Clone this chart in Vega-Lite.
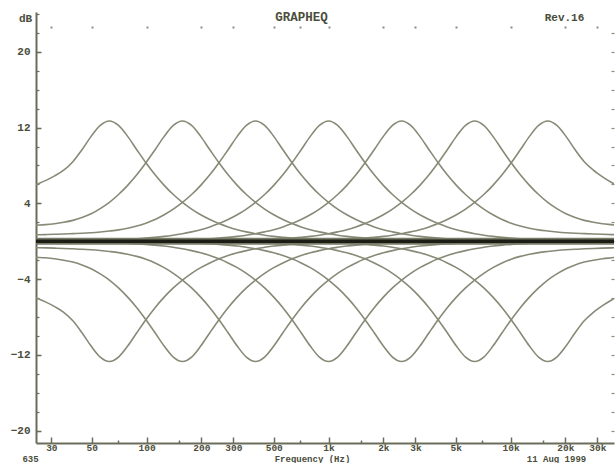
{
  "$schema": "https://vega.github.io/schema/vega-lite/v6.json",
  "width": 578,
  "height": 431,
  "autosize": {"type": "none"},
  "padding": {"left": 36, "top": 12, "right": 1, "bottom": 20},
  "background": "#ffffff",
  "config": {
    "view": {"stroke": null},
    "axis": {"grid": false, "labelFont": "Liberation Mono", "labelFontWeight": "bold", "labelFontSize": 11, "labelColor": "#4a4d3b", "titleFont": "Liberation Mono", "titleFontWeight": "bold", "titleFontSize": 11, "titleColor": "#4a4d3b", "tickColor": "#6a6d5a", "domainColor": "#6a6d5a"}
  },
  "data": {"values": [
    {"f":22.1,"b1":5.6,"b2":1.65,"b3":0.66,"b4":0.02,"b5":0.01,"b6":0,"b7":0,"c1":-5.6,"c2":-1.65,"c3":-0.66,"c4":-0.02,"c5":-0.01,"c6":0,"c7":0},
    {"f":24.8,"b1":6.0,"b2":1.7,"b3":0.68,"b4":0.02,"b5":0.01,"b6":0,"b7":0,"c1":-6.0,"c2":-1.7,"c3":-0.68,"c4":-0.02,"c5":-0.01,"c6":0,"c7":0},
    {"f":27.84,"b1":6.4,"b2":1.75,"b3":0.7,"b4":0.03,"b5":0.01,"b6":0,"b7":0,"c1":-6.4,"c2":-1.75,"c3":-0.7,"c4":-0.03,"c5":-0.01,"c6":0,"c7":0},
    {"f":31.25,"b1":6.9,"b2":1.85,"b3":0.73,"b4":0.03,"b5":0.01,"b6":0,"b7":0,"c1":-6.9,"c2":-1.85,"c3":-0.73,"c4":-0.03,"c5":-0.01,"c6":0,"c7":0},
    {"f":35.08,"b1":7.5,"b2":2.0,"b3":0.76,"b4":0.04,"b5":0.01,"b6":0,"b7":0,"c1":-7.5,"c2":-2.0,"c3":-0.76,"c4":-0.04,"c5":-0.01,"c6":0,"c7":0},
    {"f":39.37,"b1":8.4,"b2":2.2,"b3":0.8,"b4":0.05,"b5":0.01,"b6":0,"b7":0,"c1":-8.4,"c2":-2.2,"c3":-0.8,"c4":-0.05,"c5":-0.01,"c6":0,"c7":0},
    {"f":44.19,"b1":9.66,"b2":2.5,"b3":0.84,"b4":0.06,"b5":0.01,"b6":0,"b7":0,"c1":-9.66,"c2":-2.5,"c3":-0.84,"c4":-0.06,"c5":-0.01,"c6":0,"c7":0},
    {"f":49.61,"b1":11.07,"b2":2.9,"b3":0.9,"b4":0.08,"b5":0.02,"b6":0,"b7":0,"c1":-11.07,"c2":-2.9,"c3":-0.9,"c4":-0.08,"c5":-0.02,"c6":0,"c7":0},
    {"f":55.68,"b1":12.23,"b2":3.45,"b3":0.98,"b4":0.1,"b5":0.02,"b6":0.01,"b7":0,"c1":-12.23,"c2":-3.45,"c3":-0.98,"c4":-0.1,"c5":-0.02,"c6":-0.01,"c7":0},
    {"f":62.5,"b1":12.7,"b2":4.1,"b3":1.08,"b4":0.13,"b5":0.02,"b6":0.01,"b7":0,"c1":-12.7,"c2":-4.1,"c3":-1.08,"c4":-0.13,"c5":-0.02,"c6":-0.01,"c7":0},
    {"f":70.15,"b1":12.23,"b2":4.93,"b3":1.2,"b4":0.16,"b5":0.03,"b6":0.01,"b7":0,"c1":-12.23,"c2":-4.93,"c3":-1.2,"c4":-0.16,"c5":-0.03,"c6":-0.01,"c7":0},
    {"f":78.75,"b1":11.07,"b2":5.9,"b3":1.38,"b4":0.21,"b5":0.03,"b6":0.01,"b7":0,"c1":-11.07,"c2":-5.9,"c3":-1.38,"c4":-0.21,"c5":-0.03,"c6":-0.01,"c7":0},
    {"f":88.39,"b1":9.66,"b2":7.01,"b3":1.6,"b4":0.26,"b5":0.04,"b6":0.01,"b7":0,"c1":-9.66,"c2":-7.01,"c3":-1.6,"c4":-0.26,"c5":-0.04,"c6":-0.01,"c7":0},
    {"f":99.21,"b1":8.28,"b2":8.28,"b3":1.9,"b4":0.33,"b5":0.05,"b6":0.01,"b7":0,"c1":-8.28,"c2":-8.28,"c3":-1.9,"c4":-0.33,"c5":-0.05,"c6":-0.01,"c7":0},
    {"f":111.4,"b1":7.01,"b2":9.66,"b3":2.29,"b4":0.41,"b5":0.06,"b6":0.01,"b7":0,"c1":-7.01,"c2":-9.66,"c3":-2.29,"c4":-0.41,"c5":-0.06,"c6":-0.01,"c7":0},
    {"f":125,"b1":5.9,"b2":11.07,"b3":2.79,"b4":0.51,"b5":0.08,"b6":0.01,"b7":0,"c1":-5.9,"c2":-11.07,"c3":-2.79,"c4":-0.51,"c5":-0.08,"c6":-0.01,"c7":0},
    {"f":140.3,"b1":4.93,"b2":12.23,"b3":3.39,"b4":0.64,"b5":0.1,"b6":0.02,"b7":0,"c1":-4.93,"c2":-12.23,"c3":-3.39,"c4":-0.64,"c5":-0.1,"c6":-0.02,"c7":0},
    {"f":157.5,"b1":4.1,"b2":12.7,"b3":4.1,"b4":0.79,"b5":0.13,"b6":0.02,"b7":0.01,"c1":-4.1,"c2":-12.7,"c3":-4.1,"c4":-0.79,"c5":-0.13,"c6":-0.02,"c7":-0.01},
    {"f":176.8,"b1":3.39,"b2":12.23,"b3":4.93,"b4":0.99,"b5":0.16,"b6":0.03,"b7":0.01,"c1":-3.39,"c2":-12.23,"c3":-4.93,"c4":-0.99,"c5":-0.16,"c6":-0.03,"c7":-0.01},
    {"f":198.4,"b1":2.79,"b2":11.07,"b3":5.9,"b4":1.22,"b5":0.21,"b6":0.03,"b7":0.01,"c1":-2.79,"c2":-11.07,"c3":-5.9,"c4":-1.22,"c5":-0.21,"c6":-0.03,"c7":-0.01},
    {"f":222.7,"b1":2.29,"b2":9.66,"b3":7.01,"b4":1.51,"b5":0.26,"b6":0.04,"b7":0.01,"c1":-2.29,"c2":-9.66,"c3":-7.01,"c4":-1.51,"c5":-0.26,"c6":-0.04,"c7":-0.01},
    {"f":250,"b1":1.86,"b2":8.28,"b3":8.28,"b4":1.86,"b5":0.33,"b6":0.05,"b7":0.01,"c1":-1.86,"c2":-8.28,"c3":-8.28,"c4":-1.86,"c5":-0.33,"c6":-0.05,"c7":-0.01},
    {"f":280.6,"b1":1.51,"b2":7.01,"b3":9.66,"b4":2.29,"b5":0.41,"b6":0.06,"b7":0.01,"c1":-1.51,"c2":-7.01,"c3":-9.66,"c4":-2.29,"c5":-0.41,"c6":-0.06,"c7":-0.01},
    {"f":315,"b1":1.22,"b2":5.9,"b3":11.07,"b4":2.79,"b5":0.51,"b6":0.08,"b7":0.01,"c1":-1.22,"c2":-5.9,"c3":-11.07,"c4":-2.79,"c5":-0.51,"c6":-0.08,"c7":-0.01},
    {"f":353.6,"b1":0.99,"b2":4.93,"b3":12.23,"b4":3.39,"b5":0.64,"b6":0.1,"b7":0.02,"c1":-0.99,"c2":-4.93,"c3":-12.23,"c4":-3.39,"c5":-0.64,"c6":-0.1,"c7":-0.02},
    {"f":396.9,"b1":0.79,"b2":4.1,"b3":12.7,"b4":4.1,"b5":0.79,"b6":0.13,"b7":0.02,"c1":-0.79,"c2":-4.1,"c3":-12.7,"c4":-4.1,"c5":-0.79,"c6":-0.13,"c7":-0.02},
    {"f":445.4,"b1":0.64,"b2":3.39,"b3":12.23,"b4":4.93,"b5":0.99,"b6":0.16,"b7":0.03,"c1":-0.64,"c2":-3.39,"c3":-12.23,"c4":-4.93,"c5":-0.99,"c6":-0.16,"c7":-0.03},
    {"f":500,"b1":0.51,"b2":2.79,"b3":11.07,"b4":5.9,"b5":1.22,"b6":0.21,"b7":0.03,"c1":-0.51,"c2":-2.79,"c3":-11.07,"c4":-5.9,"c5":-1.22,"c6":-0.21,"c7":-0.03},
    {"f":561.2,"b1":0.41,"b2":2.29,"b3":9.66,"b4":7.01,"b5":1.51,"b6":0.26,"b7":0.04,"c1":-0.41,"c2":-2.29,"c3":-9.66,"c4":-7.01,"c5":-1.51,"c6":-0.26,"c7":-0.04},
    {"f":630,"b1":0.33,"b2":1.86,"b3":8.28,"b4":8.28,"b5":1.86,"b6":0.33,"b7":0.05,"c1":-0.33,"c2":-1.86,"c3":-8.28,"c4":-8.28,"c5":-1.86,"c6":-0.33,"c7":-0.05},
    {"f":707.1,"b1":0.26,"b2":1.51,"b3":7.01,"b4":9.66,"b5":2.29,"b6":0.41,"b7":0.06,"c1":-0.26,"c2":-1.51,"c3":-7.01,"c4":-9.66,"c5":-2.29,"c6":-0.41,"c7":-0.06},
    {"f":793.7,"b1":0.21,"b2":1.22,"b3":5.9,"b4":11.07,"b5":2.79,"b6":0.51,"b7":0.08,"c1":-0.21,"c2":-1.22,"c3":-5.9,"c4":-11.07,"c5":-2.79,"c6":-0.51,"c7":-0.08},
    {"f":890.9,"b1":0.16,"b2":0.99,"b3":4.93,"b4":12.23,"b5":3.39,"b6":0.64,"b7":0.1,"c1":-0.16,"c2":-0.99,"c3":-4.93,"c4":-12.23,"c5":-3.39,"c6":-0.64,"c7":-0.1},
    {"f":1000,"b1":0.13,"b2":0.79,"b3":4.1,"b4":12.7,"b5":4.1,"b6":0.79,"b7":0.13,"c1":-0.13,"c2":-0.79,"c3":-4.1,"c4":-12.7,"c5":-4.1,"c6":-0.79,"c7":-0.13},
    {"f":1122,"b1":0.1,"b2":0.64,"b3":3.39,"b4":12.23,"b5":4.93,"b6":0.99,"b7":0.16,"c1":-0.1,"c2":-0.64,"c3":-3.39,"c4":-12.23,"c5":-4.93,"c6":-0.99,"c7":-0.16},
    {"f":1260,"b1":0.08,"b2":0.51,"b3":2.79,"b4":11.07,"b5":5.9,"b6":1.22,"b7":0.21,"c1":-0.08,"c2":-0.51,"c3":-2.79,"c4":-11.07,"c5":-5.9,"c6":-1.22,"c7":-0.21},
    {"f":1414,"b1":0.06,"b2":0.41,"b3":2.29,"b4":9.66,"b5":7.01,"b6":1.51,"b7":0.26,"c1":-0.06,"c2":-0.41,"c3":-2.29,"c4":-9.66,"c5":-7.01,"c6":-1.51,"c7":-0.26},
    {"f":1587,"b1":0.05,"b2":0.33,"b3":1.86,"b4":8.28,"b5":8.28,"b6":1.86,"b7":0.33,"c1":-0.05,"c2":-0.33,"c3":-1.86,"c4":-8.28,"c5":-8.28,"c6":-1.86,"c7":-0.33},
    {"f":1782,"b1":0.04,"b2":0.26,"b3":1.51,"b4":7.01,"b5":9.66,"b6":2.29,"b7":0.41,"c1":-0.04,"c2":-0.26,"c3":-1.51,"c4":-7.01,"c5":-9.66,"c6":-2.29,"c7":-0.41},
    {"f":2000,"b1":0.03,"b2":0.21,"b3":1.22,"b4":5.9,"b5":11.07,"b6":2.79,"b7":0.51,"c1":-0.03,"c2":-0.21,"c3":-1.22,"c4":-5.9,"c5":-11.07,"c6":-2.79,"c7":-0.51},
    {"f":2245,"b1":0.03,"b2":0.16,"b3":0.99,"b4":4.93,"b5":12.23,"b6":3.39,"b7":0.64,"c1":-0.03,"c2":-0.16,"c3":-0.99,"c4":-4.93,"c5":-12.23,"c6":-3.39,"c7":-0.64},
    {"f":2520,"b1":0.02,"b2":0.13,"b3":0.79,"b4":4.1,"b5":12.7,"b6":4.1,"b7":0.79,"c1":-0.02,"c2":-0.13,"c3":-0.79,"c4":-4.1,"c5":-12.7,"c6":-4.1,"c7":-0.79},
    {"f":2828,"b1":0.02,"b2":0.1,"b3":0.64,"b4":3.39,"b5":12.23,"b6":4.93,"b7":0.99,"c1":-0.02,"c2":-0.1,"c3":-0.64,"c4":-3.39,"c5":-12.23,"c6":-4.93,"c7":-0.99},
    {"f":3175,"b1":0.02,"b2":0.08,"b3":0.51,"b4":2.79,"b5":11.07,"b6":5.9,"b7":1.22,"c1":-0.02,"c2":-0.08,"c3":-0.51,"c4":-2.79,"c5":-11.07,"c6":-5.9,"c7":-1.22},
    {"f":3564,"b1":0.02,"b2":0.06,"b3":0.41,"b4":2.29,"b5":9.66,"b6":7.01,"b7":1.51,"c1":-0.02,"c2":-0.06,"c3":-0.41,"c4":-2.29,"c5":-9.66,"c6":-7.01,"c7":-1.51},
    {"f":4000,"b1":0.01,"b2":0.05,"b3":0.33,"b4":1.86,"b5":8.28,"b6":8.28,"b7":1.86,"c1":-0.01,"c2":-0.05,"c3":-0.33,"c4":-1.86,"c5":-8.28,"c6":-8.28,"c7":-1.86},
    {"f":4490,"b1":0.01,"b2":0.04,"b3":0.26,"b4":1.51,"b5":7.01,"b6":9.66,"b7":2.29,"c1":-0.01,"c2":-0.04,"c3":-0.26,"c4":-1.51,"c5":-7.01,"c6":-9.66,"c7":-2.29},
    {"f":5040,"b1":0.01,"b2":0.03,"b3":0.21,"b4":1.22,"b5":5.9,"b6":11.07,"b7":2.79,"c1":-0.01,"c2":-0.03,"c3":-0.21,"c4":-1.22,"c5":-5.9,"c6":-11.07,"c7":-2.79},
    {"f":5657,"b1":0.01,"b2":0.03,"b3":0.16,"b4":0.99,"b5":4.93,"b6":12.23,"b7":3.39,"c1":-0.01,"c2":-0.03,"c3":-0.16,"c4":-0.99,"c5":-4.93,"c6":-12.23,"c7":-3.39},
    {"f":6350,"b1":0.01,"b2":0.02,"b3":0.13,"b4":0.79,"b5":4.1,"b6":12.7,"b7":4.1,"c1":-0.01,"c2":-0.02,"c3":-0.13,"c4":-0.79,"c5":-4.1,"c6":-12.7,"c7":-4.1},
    {"f":7127,"b1":0.01,"b2":0.02,"b3":0.1,"b4":0.64,"b5":3.39,"b6":12.23,"b7":4.93,"c1":-0.01,"c2":-0.02,"c3":-0.1,"c4":-0.64,"c5":-3.39,"c6":-12.23,"c7":-4.93},
    {"f":8000,"b1":0.01,"b2":0.02,"b3":0.08,"b4":0.51,"b5":2.79,"b6":11.07,"b7":5.9,"c1":-0.01,"c2":-0.02,"c3":-0.08,"c4":-0.51,"c5":-2.79,"c6":-11.07,"c7":-5.9},
    {"f":8980,"b1":0.01,"b2":0.02,"b3":0.06,"b4":0.41,"b5":2.29,"b6":9.66,"b7":7.01,"c1":-0.01,"c2":-0.02,"c3":-0.06,"c4":-0.41,"c5":-2.29,"c6":-9.66,"c7":-7.01},
    {"f":10079,"b1":0.01,"b2":0.01,"b3":0.05,"b4":0.33,"b5":1.9,"b6":8.28,"b7":8.28,"c1":-0.01,"c2":-0.01,"c3":-0.05,"c4":-0.33,"c5":-1.9,"c6":-8.28,"c7":-8.28},
    {"f":11314,"b1":0,"b2":0.01,"b3":0.04,"b4":0.26,"b5":1.6,"b6":7.01,"b7":9.66,"c1":0,"c2":-0.01,"c3":-0.04,"c4":-0.26,"c5":-1.6,"c6":-7.01,"c7":-9.66},
    {"f":12699,"b1":0,"b2":0.01,"b3":0.03,"b4":0.21,"b5":1.38,"b6":5.9,"b7":11.07,"c1":0,"c2":-0.01,"c3":-0.03,"c4":-0.21,"c5":-1.38,"c6":-5.9,"c7":-11.07},
    {"f":14254,"b1":0,"b2":0.01,"b3":0.03,"b4":0.16,"b5":1.2,"b6":4.93,"b7":12.23,"c1":0,"c2":-0.01,"c3":-0.03,"c4":-0.16,"c5":-1.2,"c6":-4.93,"c7":-12.23},
    {"f":16000,"b1":0,"b2":0.01,"b3":0.02,"b4":0.13,"b5":1.08,"b6":4.1,"b7":12.7,"c1":0,"c2":-0.01,"c3":-0.02,"c4":-0.13,"c5":-1.08,"c6":-4.1,"c7":-12.7},
    {"f":17959,"b1":0,"b2":0.01,"b3":0.02,"b4":0.1,"b5":0.98,"b6":3.45,"b7":12.23,"c1":0,"c2":-0.01,"c3":-0.02,"c4":-0.1,"c5":-0.98,"c6":-3.45,"c7":-12.23},
    {"f":20159,"b1":0,"b2":0.01,"b3":0.02,"b4":0.08,"b5":0.9,"b6":2.9,"b7":11.07,"c1":0,"c2":-0.01,"c3":-0.02,"c4":-0.08,"c5":-0.9,"c6":-2.9,"c7":-11.07},
    {"f":22627,"b1":0,"b2":0.01,"b3":0.02,"b4":0.06,"b5":0.84,"b6":2.5,"b7":9.66,"c1":0,"c2":-0.01,"c3":-0.02,"c4":-0.06,"c5":-0.84,"c6":-2.5,"c7":-9.66},
    {"f":25398,"b1":0,"b2":0.01,"b3":0.01,"b4":0.05,"b5":0.8,"b6":2.2,"b7":8.4,"c1":0,"c2":-0.01,"c3":-0.01,"c4":-0.05,"c5":-0.8,"c6":-2.2,"c7":-8.4},
    {"f":28509,"b1":0,"b2":0,"b3":0.01,"b4":0.04,"b5":0.76,"b6":2.0,"b7":7.5,"c1":0,"c2":0,"c3":-0.01,"c4":-0.04,"c5":-0.76,"c6":-2.0,"c7":-7.5},
    {"f":32000,"b1":0,"b2":0,"b3":0.01,"b4":0.03,"b5":0.73,"b6":1.85,"b7":6.8,"c1":0,"c2":0,"c3":-0.01,"c4":-0.03,"c5":-0.73,"c6":-1.85,"c7":-6.8},
    {"f":35919,"b1":0,"b2":0,"b3":0.01,"b4":0.03,"b5":0.7,"b6":1.75,"b7":6.2,"c1":0,"c2":0,"c3":-0.01,"c4":-0.03,"c5":-0.7,"c6":-1.75,"c7":-6.2},
    {"f":40318,"b1":0,"b2":0,"b3":0.01,"b4":0.02,"b5":0.68,"b6":1.65,"b7":5.7,"c1":0,"c2":0,"c3":-0.01,"c4":-0.02,"c5":-0.68,"c6":-1.65,"c7":-5.7}
  ]},
  "resolve": {"axis": {"x": "independent", "y": "independent"}},
  "layer": [
    {
      "transform": [{"fold": ["b1","b2","b3","b4","b5","b6","b7"], "as": ["band","g"]}],
      "mark": {"type": "line", "clip": true, "interpolate": "monotone", "stroke": "#878a76", "strokeWidth": 1.6},
      "encoding": {
        "x": {"field": "f", "type": "quantitative", "scale": {"type": "log", "domain": [24.7, 37000], "nice": false},
          "axis": {"orient": "bottom", "values": [30,50,100,200,300,500,1000,2000,3000,5000,10000,20000,30000], "labelExpr": "datum.value >= 1000 ? (datum.value / 1000) + 'k' : datum.label", "tickSize": -6, "tickWidth": 1.5, "domainWidth": 2, "labelPadding": 10.5, "labelFontSize": 9.5, "labelBaseline": "middle", "title": "Frequency (Hz)", "titleFontSize": 9, "titleX": 276, "titleY": 15, "titleAlign": "center", "titleBaseline": "middle", "labelFlush": false}},
        "y": {"field": "g", "type": "quantitative", "scale": {"domain": [-21.3, 24.2], "nice": false, "zero": false},
          "axis": {"orient": "left", "values": [-20,-12,-4,4,12,20], "tickSize": -5, "tickWidth": 1.5, "domainWidth": 2, "labelPadding": 11, "title": "dB", "titleAngle": 0, "titleX": -11, "titleY": 6, "titleAlign": "center", "titleBaseline": "middle"}},
        "detail": {"field": "band"}
      }
    },
    {
      "transform": [{"fold": ["c1","c2","c3","c4","c5","c6","c7"], "as": ["band","g"]}],
      "mark": {"type": "line", "clip": true, "interpolate": "monotone", "stroke": "#878a76", "strokeWidth": 1.6},
      "encoding": {
        "x": {"field": "f", "type": "quantitative",
          "axis": {"orient": "top", "offset": -14, "values": [30,50,100,200,300,500,700,1000,2000,3000,5000,10000,20000,30000], "labels": false, "domain": false, "tickSize": -2, "tickWidth": 2, "tickColor": "#8a8c7a", "title": "GRAPHEQ", "titleFontSize": 12.5, "titleX": 265, "titleY": -10, "titleAlign": "center", "titleBaseline": "middle"}},
        "y": {"field": "g", "type": "quantitative",
          "axis": {"orient": "right", "values": [-20,-18,-16,-14,-12,-10,-8,-6,-4,-2,0,2,4,6,8,10,12,14,16,18,20,22], "labels": false, "domain": false, "tickSize": -3, "tickWidth": 1.2, "tickColor": "#8a8c7a", "title": "Rev.16", "titleAngle": 0, "titleX": -50, "titleY": 5, "titleAlign": "center", "titleBaseline": "middle"}},
        "detail": {"field": "band"}
      }
    },
    {
      "mark": {"type": "line", "clip": true, "stroke": "#777a66", "strokeWidth": 7},
      "encoding": {
        "x": {"field": "f", "type": "quantitative",
          "axis": {"orient": "bottom", "values": [70,150,700,1500,7000,15000], "labels": false, "domain": false, "tickSize": -3, "tickWidth": 1.5, "title": "11 Aug 1999", "titleFontSize": 9, "titleX": 520, "titleY": 15, "titleAlign": "center", "titleBaseline": "middle"}},
        "y": {"datum": 0, "type": "quantitative",
          "axis": {"orient": "left", "values": [-20,-18,-16,-14,-12,-10,-8,-6,-4,-2,0,2,4,6,8,10,12,14,16,18,20,22,24], "labels": false, "domain": false, "tickSize": -3, "tickWidth": 1.2, "title": null}}
      }
    },
    {
      "mark": {"type": "line", "clip": true, "stroke": "#1c1e15", "strokeWidth": 3.5},
      "encoding": {
        "x": {"field": "f", "type": "quantitative",
          "axis": {"orient": "bottom", "values": [], "labels": false, "domain": false, "ticks": false, "title": "635", "titleFontSize": 9, "titleX": -6, "titleY": 15, "titleAlign": "center", "titleBaseline": "middle"}},
        "y": {"datum": 0, "type": "quantitative", "axis": null}
      }
    }
  ]
}
